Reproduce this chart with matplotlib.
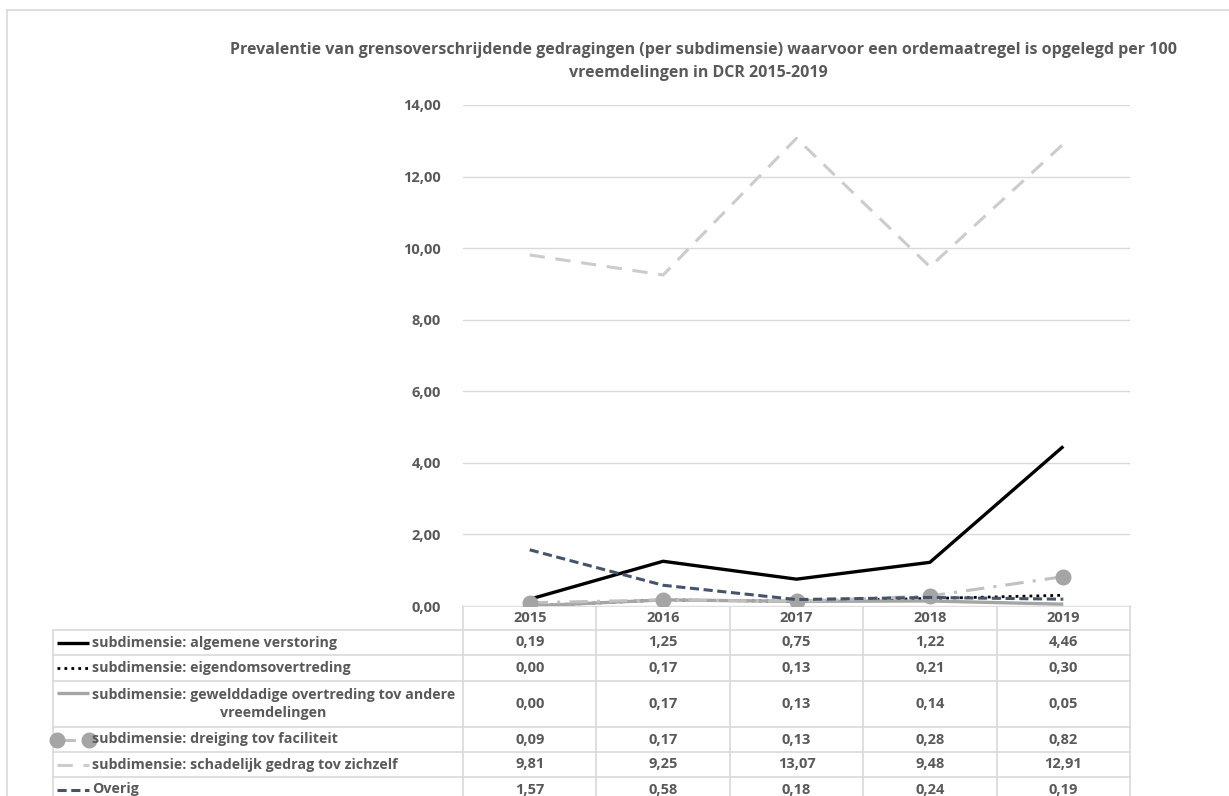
import matplotlib
matplotlib.use("Agg")
import matplotlib.pyplot as plt
from matplotlib.transforms import blended_transform_factory
from matplotlib.lines import Line2D

plt.rcParams["font.family"] = ["Open Sans", "DejaVu Sans"]
plt.rcParams["font.weight"] = "bold"

years = ["2015", "2016", "2017", "2018", "2019"]
algemene = [0.19, 1.25, 0.75, 1.22, 4.46]
eigendom = [0.00, 0.17, 0.13, 0.21, 0.30]
geweld = [0.00, 0.17, 0.13, 0.14, 0.05]
dreiging = [0.09, 0.17, 0.13, 0.28, 0.82]
schadelijk = [9.81, 9.25, 13.07, 9.48, 12.91]
overig = [1.57, 0.58, 0.18, 0.24, 0.19]

labels = [
    "subdimensie: algemene verstoring",
    "subdimensie: eigendomsovertreding",
    "subdimensie: gewelddadige overtreding tov andere\nvreemdelingen",
    "subdimensie: dreiging tov faciliteit",
    "subdimensie: schadelijk gedrag tov zichzelf",
    "Overig",
]
series = [algemene, eigendom, geweld, dreiging, schadelijk, overig]

styles = [
    dict(color="black", lw=2.4, ls="-"),
    dict(color="black", lw=2.0, ls=(0, (1, 1.5))),
    dict(color="#A5A5A5", lw=2.4, ls="-"),
    dict(color="#C0C0C0", lw=2.2, ls=(0, (6, 3, 1, 3)), marker="o", ms=10.5,
         markerfacecolor="#A5A5A5", markeredgecolor="#A5A5A5"),
    dict(color="#CCCCCC", lw=2.2, ls=(0, (5, 3.5))),
    dict(color="#44546A", lw=2.2, ls=(0, (3, 1.5))),
]

W, H = 1229, 796
fig = plt.figure(figsize=(W / 100, H / 100), dpi=100)
text_c = "#595959"
grid_c = "#D9D9D9"
fs = 10.5

# main plot area
x0, x1, ytop, ybot = 463, 1130, 105, 606
ax = fig.add_axes([x0 / W, 1 - ybot / H, (x1 - x0) / W, (ybot - ytop) / H])
xs = list(range(len(years)))
for vals, st in zip(series, styles):
    ax.plot(xs, vals, solid_capstyle="butt", dash_capstyle="butt", **st)
ax.set_xlim(-0.5, len(years) - 0.5)
ax.set_ylim(0, 14)
ax.set_yticks(range(0, 15, 2))
ax.set_yticklabels([f"{v:.2f}".replace(".", ",") for v in range(0, 15, 2)])
ax.tick_params(axis="y", length=0, pad=16, labelsize=fs, labelcolor=text_c)
ax.set_xticks([])
ax.grid(axis="y", color=grid_c, lw=1)
ax.set_axisbelow(True)
for s in ax.spines.values():
    s.set_visible(False)

fig.text(703 / W, 1 - 50 / H,
         "Prevalentie van grensoverschrijdende gedragingen (per subdimensie) waarvoor een ordemaatregel is opgelegd per 100",
         ha="center", va="center", fontsize=11.5, color=text_c, fontweight="bold")
fig.text(698 / W, 1 - 73 / H, "vreemdelingen in DCR 2015-2019",
         ha="center", va="center", fontsize=11.5, color=text_c, fontweight="bold")

# overlay in pixel coords for table / frame
ov = fig.add_axes([0, 0, 1, 1], zorder=-1)
ov.set_xlim(0, W)
ov.set_ylim(H, 0)
ov.axis("off")
ov.patch.set_alpha(0)

# chart frame
ov.plot([7, 7], [10, H], color="#D9D9D9", lw=1.2)
ov.plot([7, W], [10, 10], color="#D9D9D9", lw=1.2)

tleft = 53
col_edges = [x0 + i * (x1 - x0) / len(years) for i in range(len(years) + 1)]
rows = [630, 655, 681, 727, 752, 777, 802]
hdr_top = 606

# header
ov.plot([x0, x1], [hdr_top, hdr_top], color=grid_c, lw=1.2)
for xe in col_edges:
    ov.plot([xe, xe], [hdr_top, rows[-1]], color=grid_c, lw=1.2)
ov.plot([tleft, tleft], [rows[0], rows[-1]], color=grid_c, lw=1.2)
for y in rows:
    ov.plot([tleft, x1], [y, y], color=grid_c, lw=1.2)

bt = blended_transform_factory(ax.transData, ov.transData)
for i, yr in enumerate(years):
    ov.text(i, (hdr_top + rows[0]) / 2, yr, transform=bt, ha="center", va="center",
            fontsize=fs, color=text_c)

for r, (lab, vals, st) in enumerate(zip(labels, series, styles)):
    yc = (rows[r] + rows[r + 1]) / 2
    ykey = yc - 11 if "\n" in lab else yc
    key = dict(st)
    if "ms" in key:
        key["markevery"] = [0, 1]
    ov.add_line(Line2D([57, 89], [ykey, ykey], solid_capstyle="butt",
                       dash_capstyle="butt", **key))
    ov.text(92, yc, lab, ha="left", va="center", multialignment="center",
            fontsize=10.3, color=text_c, linespacing=1.4)
    for i, v in enumerate(vals):
        ov.text(i, yc, f"{v:.2f}".replace(".", ","), transform=bt, ha="center",
                va="center", fontsize=fs, color=text_c)

fig.savefig("out.png", dpi=100)
